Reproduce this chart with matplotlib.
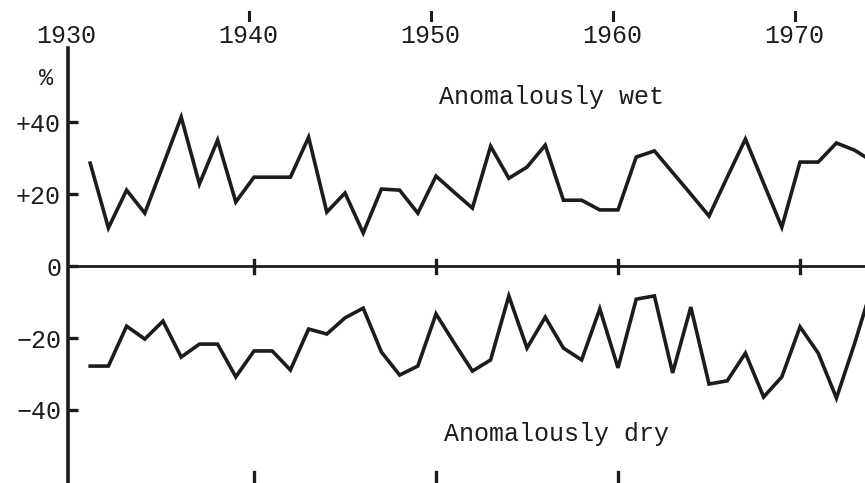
import matplotlib
matplotlib.use("Agg")
import matplotlib.pyplot as plt

# percent of area anomalously wet / dry
years = list(range(1931, 1975))
wet = [28.6, 10.6, 21.1, 14.7, 28.0, 41.4, 22.8, 35.0, 17.8, 24.7,
       24.7, 24.7, 35.8, 15.0, 20.3, 9.2, 21.4, 21.1, 14.7, 25.0,
       20.5, 16.1, 33.3, 24.4, 27.5, 33.6, 18.3, 18.3, 15.6, 15.6,
       30.3, 32.0, 26.0, 20.0, 13.9, 24.7, 35.3, 23.0, 10.8, 28.9,
       28.9, 34.2, 32.2, 29.0]
dry = [-27.8, -27.8, -16.7, -20.3, -15.3, -25.3, -21.7, -21.7, -30.8, -23.6,
       -23.6, -28.9, -17.5, -18.9, -14.4, -11.7, -23.9, -30.3, -27.8, -13.3,
       -21.4, -29.2, -26.1, -8.3, -22.8, -14.2, -22.8, -26.1, -11.9, -28.3,
       -9.2, -8.3, -29.7, -11.4, -32.8, -31.9, -24.2, -36.4, -30.8, -16.9,
       -24.2, -36.7, -21.5, -5.0]

decades = [1930, 1940, 1950, 1960, 1970]
yticks = [40, 20, 0, -20, -40]
ytick_labels = ['+40', '+20', '0', '\u221220', '\u221240']

ink = '#1c1c1c'
font = 'Liberation Mono'

fig = plt.figure(figsize=(8.65, 4.83), dpi=100)
ax = fig.add_axes([0.0786, 0.0, 0.9214, 0.9006])

ax.plot(years, wet, color=ink, lw=2.6, solid_joinstyle='miter')
ax.plot(years, dry, color=ink, lw=2.6, solid_joinstyle='miter')
ax.axhline(0, color=ink, lw=2.0)

ax.set_xlim(1929.78, 1973.57)
ax.set_ylim(-60.3, 60.6)

for s in ['top', 'right', 'bottom']:
    ax.spines[s].set_visible(False)
ax.spines['left'].set_linewidth(2.6)
ax.spines['left'].set_color(ink)

ax.set_yticks(yticks)
ax.set_yticklabels(ytick_labels, family=font, fontsize=18, color=ink)
ax.tick_params(axis='y', direction='in', length=7, width=2.4, color=ink, pad=5)
ax.set_xticks([])

# decade labels along the top, with little marks above them
for d in decades:
    ax.text(d - 0.3, 1.0, str(d), transform=ax.get_xaxis_transform(),
            ha='center', va='bottom', family=font, fontsize=18, color=ink,
            clip_on=False)
    if d > 1930:
        ax.plot([d - 0.25, d - 0.25], [1.064, 1.083], transform=ax.get_xaxis_transform(),
                color=ink, lw=2.2, clip_on=False)
        # crossing marks on the zero line
        ax.plot([d, d], [-1.8, 1.8], color=ink, lw=2.4)
for d in decades[1:4]:
    ax.plot([d, d], [0.005, 0.025], transform=ax.get_xaxis_transform(),
            color=ink, lw=2.4)

ax.text(-0.028, 0.93, '%', transform=ax.transAxes, ha='center', va='center',
        family=font, fontsize=17, color=ink, clip_on=False)

ax.text(0.465, 0.887, 'Anomalously wet', transform=ax.transAxes, ha='left',
        va='center', family=font, fontsize=18, color=ink)
ax.text(0.472, 0.113, 'Anomalously dry', transform=ax.transAxes, ha='left',
        va='center', family=font, fontsize=18, color=ink)

fig.savefig('out.png', dpi=100, facecolor='white')
